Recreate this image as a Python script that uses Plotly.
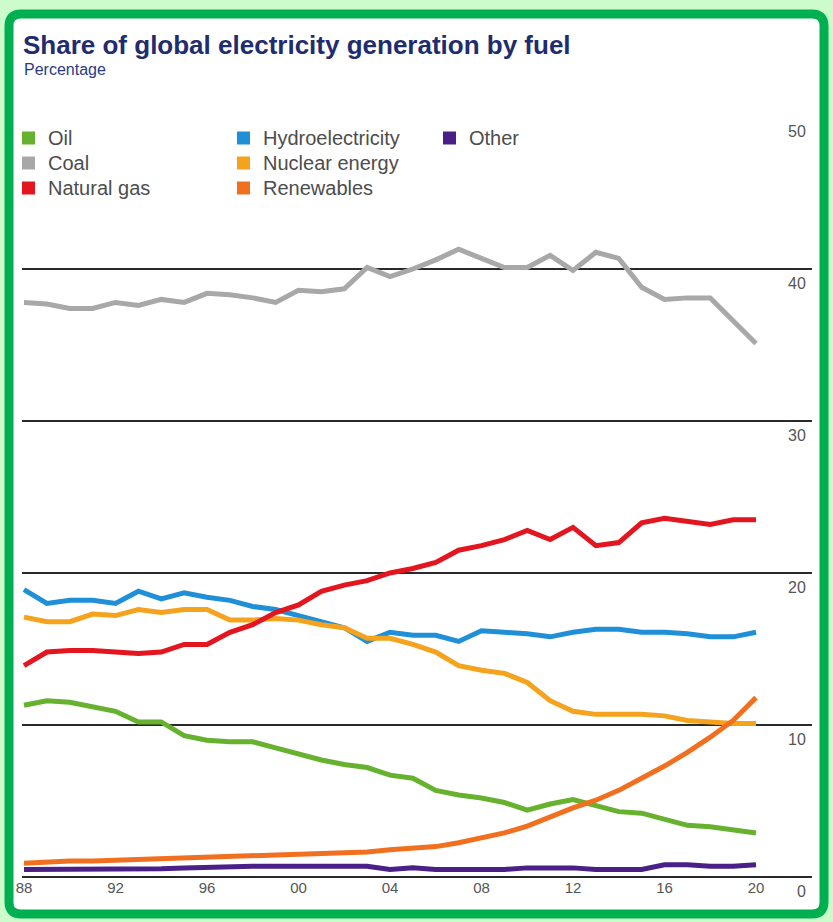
import plotly.graph_objects as go

years = list(range(1988, 2021))
year_ticks = [1988, 1992, 1996, 2000, 2004, 2008, 2012, 2016, 2020]
year_tick_text = ["88", "92", "96", "00", "04", "08", "12", "16", "20"]
value_ticks = [0, 10, 20, 30, 40, 50]

coal = [37.8, 37.7, 37.4, 37.4, 37.8, 37.6, 38.0, 37.8, 38.4, 38.3, 38.1, 37.8, 38.6,
        38.5, 38.7, 40.1, 39.5, 40.0, 40.6, 41.3, 40.7, 40.1, 40.1, 40.9, 39.9, 41.1,
        40.7, 38.8, 38.0, 38.1, 38.1, 36.6, 35.1]
natural_gas = [13.9, 14.8, 14.9, 14.9, 14.8, 14.7, 14.8, 15.3, 15.3, 16.1, 16.6, 17.4, 17.9,
               18.8, 19.2, 19.5, 20.0, 20.3, 20.7, 21.5, 21.8, 22.2, 22.8, 22.2, 23.0, 21.8,
               22.0, 23.3, 23.6, 23.4, 23.2, 23.5, 23.5]
hydro = [18.9, 18.0, 18.2, 18.2, 18.0, 18.8, 18.3, 18.7, 18.4, 18.2, 17.8, 17.6, 17.2,
         16.8, 16.4, 15.5, 16.1, 15.9, 15.9, 15.5, 16.2, 16.1, 16.0, 15.8, 16.1, 16.3,
         16.3, 16.1, 16.1, 16.0, 15.8, 15.8, 16.1]
nuclear = [17.1, 16.8, 16.8, 17.3, 17.2, 17.6, 17.4, 17.6, 17.6, 16.9, 16.9, 17.0, 16.9,
           16.6, 16.4, 15.7, 15.7, 15.3, 14.8, 13.9, 13.6, 13.4, 12.8, 11.6, 10.9, 10.7,
           10.7, 10.7, 10.6, 10.3, 10.2, 10.1, 10.1]
oil = [11.3, 11.6, 11.5, 11.2, 10.9, 10.2, 10.2, 9.3, 9.0, 8.9, 8.9, 8.5, 8.1,
       7.7, 7.4, 7.2, 6.7, 6.5, 5.7, 5.4, 5.2, 4.9, 4.4, 4.8, 5.1, 4.7,
       4.3, 4.2, 3.8, 3.4, 3.3, 3.1, 2.9]
renewables = [0.9, 1.0, 1.05, 1.05, 1.1, 1.1, 1.2, 1.25, 1.25, 1.3, 1.4, 1.4, 1.45,
              1.5, 1.6, 1.65, 1.8, 1.9, 2.0, 2.25, 2.55, 2.9, 3.35, 3.95, 4.55, 5.05,
              5.7, 6.5, 7.3, 8.2, 9.2, 10.3, 11.8]
other = [0.5, 0.5, 0.5, 0.5, 0.5, 0.5, 0.55, 0.6, 0.65, 0.7, 0.7, 0.7, 0.7,
         0.7, 0.7, 0.7, 0.5, 0.6, 0.5, 0.5, 0.5, 0.5, 0.6, 0.6, 0.6, 0.5,
         0.5, 0.5, 0.8, 0.8, 0.7, 0.7, 0.8]

colors = {"Oil": "#66b22f", "Coal": "#a8a8a8", "Natural gas": "#e3151f",
          "Hydroelectricity": "#1f90d8", "Nuclear energy": "#f5a31c",
          "Renewables": "#f07020", "Other": "#4a2088"}
series = {"Oil": oil, "Coal": coal, "Natural gas": natural_gas, "Hydroelectricity": hydro,
          "Nuclear energy": nuclear, "Renewables": renewables, "Other": other}
draw_order = ["Other", "Coal", "Hydroelectricity", "Nuclear energy", "Natural gas", "Oil", "Renewables"]

W, H = 833, 922
L, R, T, B = 22, 812, 117, 877  # plot area in pixels


def px(x):
    return (x - L) / (R - L)


def py(y):
    return (B - y) / (B - T)


fig = go.Figure()
for n in draw_order:
    fig.add_trace(go.Scatter(x=years, y=series[n], mode="lines", name=n,
                             line=dict(color=colors[n], width=5), showlegend=False,
                             hoverinfo="skip"))

x0 = 1988 - 2 / 22.875
x1 = 1988 + (R - L - 2) / 22.875

font_family = "Liberation Sans Narrow, Arial Narrow, Liberation Sans, Arial, sans-serif"

fig.update_layout(
    width=W, height=H,
    margin=dict(l=L, r=W - R, t=T, b=H - B, pad=0),
    paper_bgcolor="#ccfbcc",
    plot_bgcolor="rgba(0,0,0,0)",
    font=dict(family=font_family, color="#555555"),
    xaxis=dict(range=[x0, x1], tickvals=year_ticks, ticktext=year_tick_text,
               showgrid=False, zeroline=False, showline=False, ticks="",
               tickfont=dict(size=15, color="#555555"), fixedrange=True),
    yaxis=dict(range=[0, 50], tickvals=value_ticks, showticklabels=False,
               showgrid=True, gridcolor="#2a2a2a", gridwidth=2,
               zeroline=True, zerolinecolor="#2a2a2a", zerolinewidth=2,
               showline=False, ticks="", fixedrange=True),
)

# Card background with rounded dark-green border
bx0, bx1, by0, by1 = 9, 824, 14, 914
r = 12
path = (f"M {px(bx0 + r)} {py(by0)} L {px(bx1 - r)} {py(by0)} "
        f"Q {px(bx1)} {py(by0)} {px(bx1)} {py(by0 + r)} "
        f"L {px(bx1)} {py(by1 - r)} Q {px(bx1)} {py(by1)} {px(bx1 - r)} {py(by1)} "
        f"L {px(bx0 + r)} {py(by1)} Q {px(bx0)} {py(by1)} {px(bx0)} {py(by1 - r)} "
        f"L {px(bx0)} {py(by0 + r)} Q {px(bx0)} {py(by0)} {px(bx0 + r)} {py(by0)} Z")
fig.add_shape(type="path", path=path, xref="paper", yref="paper",
              fillcolor="white", line=dict(color="#00b050", width=9), layer="below")

# Title and subtitle
fig.add_annotation(text="<b>Share of global electricity generation by fuel</b>",
                   xref="paper", yref="paper", x=px(21), y=py(45), xanchor="left",
                   yanchor="middle", showarrow=False,
                   font=dict(size=26, color="#1f2c6e", family="Liberation Sans, Arial, sans-serif"))
fig.add_annotation(text="Percentage", xref="paper", yref="paper", x=px(22), y=py(70),
                   xanchor="left", yanchor="middle", showarrow=False,
                   font=dict(size=16, color="#2b3a85", family=font_family))

# Manual legend (column-major, 3 columns)
legend_cols = [["Oil", "Coal", "Natural gas"],
               ["Hydroelectricity", "Nuclear energy", "Renewables"],
               ["Other"]]
col_sw_x = [22, 237, 443]
row_y = [138, 163, 188]
sw = 13
for ci, col in enumerate(legend_cols):
    for ri, n in enumerate(col):
        sx = col_sw_x[ci]
        cy = row_y[ri]
        fig.add_shape(type="rect", xref="paper", yref="paper",
                      x0=px(sx), x1=px(sx + sw), y0=py(cy + sw / 2), y1=py(cy - sw / 2),
                      fillcolor=colors[n], line=dict(width=0))
        fig.add_annotation(text=n, xref="paper", yref="paper", x=px(sx + 24), y=py(cy),
                           xanchor="left", yanchor="middle", showarrow=False,
                           font=dict(size=20, color="#4d4d4d", family=font_family))

# Value labels on the right, just below each gridline
for v in value_ticks:
    fig.add_annotation(text=str(v), xref="paper", yref="y", x=px(808), y=v,
                       xanchor="right", yanchor="top", yshift=-4, showarrow=False,
                       font=dict(size=16, color="#555555", family=font_family))

fig.write_html("out.html", config={"displayModeBar": False},
               post_script="document.body.style.margin='0';document.body.style.overflow='hidden';")
